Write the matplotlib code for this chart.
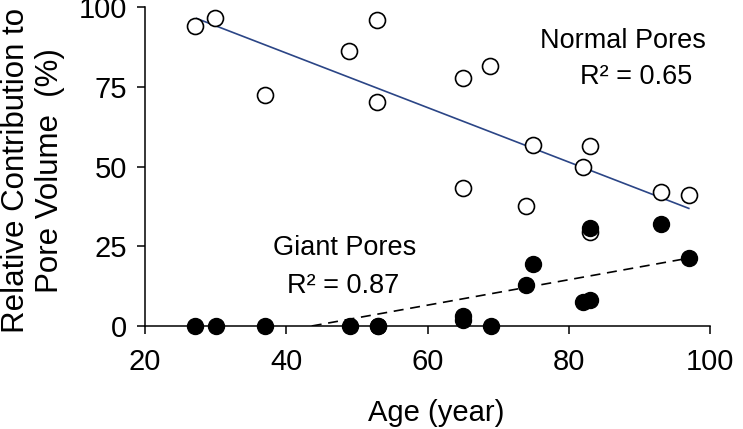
import matplotlib
matplotlib.use("Agg")
import matplotlib.pyplot as plt

plt.rcParams['font.family'] = ['Liberation Sans', 'DejaVu Sans']

# Normal pores (open circles)
age_normal = [27.1, 29.9, 37.0, 48.9, 52.9, 52.9, 65.0, 68.9, 65.0, 75.0, 74.0, 82.0, 83.0, 83.0, 93.0, 97.0]
normal_pct = [94.1, 96.6, 72.5, 86.3, 96.0, 70.3, 77.8, 81.6, 43.3, 56.8, 37.7, 49.9, 56.5, 29.5, 42.0, 41.1]

# Giant pores (filled circles)
age_giant = [27.1, 30.0, 37.0, 49.0, 53.0, 53.0, 65.0, 65.0, 69.0, 74.0, 75.0, 82.0, 83.0, 83.0, 93.0, 97.0]
giant_pct = [0.0, 0.0, 0.0, 0.0, 0.0, 0.0, 1.8, 3.0, 0.0, 12.8, 19.5, 7.4, 8.1, 30.8, 32.1, 21.2]

# trend lines as drawn in the figure
normal_fit_x = [27.3, 97.0]
normal_fit_y = [96.5, 36.9]
giant_fit_x = [43.6, 97.0]
giant_fit_y = [0.0, 21.3]

x_ticks = [20, 40, 60, 80, 100]
y_ticks = [0, 25, 50, 75, 100]

fig = plt.figure(figsize=(7.43, 4.29), dpi=100)
ax = fig.add_axes([0.1952, 0.2401, 0.7604, 0.7429])

ax.plot(normal_fit_x, normal_fit_y, color='#2b4586', linewidth=1.2, zorder=2)
ax.plot(giant_fit_x, giant_fit_y, color='black', linewidth=1.2,
        linestyle=(0, (6, 4)), zorder=2)

ax.plot(age_normal, normal_pct, linestyle='none', marker='o', markersize=11.5,
        markerfacecolor='white', markeredgecolor='black', markeredgewidth=1.2, zorder=3,
        clip_on=False)
ax.plot(age_giant, giant_pct, linestyle='none', marker='o', markersize=11.5,
        markerfacecolor='black', markeredgecolor='black', markeredgewidth=1.0, zorder=4,
        clip_on=False)

ax.text(87.7, 87.1, 'Normal Pores', ha='center', va='baseline', fontsize=19.5)
ax.text(89.5, 75.8, 'R² = 0.65', ha='center', va='baseline', fontsize=19.5)
ax.text(48.2, 22.3, 'Giant Pores', ha='center', va='baseline', fontsize=19.5)
ax.text(48.1, 10.3, 'R² = 0.87', ha='center', va='baseline', fontsize=19.5)

ax.set_xlim(20, 100)
ax.set_ylim(0, 100)
ax.set_xticks(x_ticks)
ax.set_yticks(y_ticks)
ax.tick_params(axis='both', direction='out', length=6, width=1.1, labelsize=21)
ax.tick_params(axis='x', pad=10)
ax.tick_params(axis='y', pad=7)

for side in ['top', 'right']:
    ax.spines[side].set_visible(False)
for side in ['left', 'bottom']:
    ax.spines[side].set_linewidth(1.1)

ax.set_xlabel('Age (year)', fontsize=21, va='baseline')
ax.xaxis.set_label_coords(0.516, -0.298)
ax.set_ylabel('Relative Contribution to\nPore Volume  (%)', fontsize=22.5,
              ha='center', va='center', linespacing=1.15)
ax.yaxis.set_label_coords(-0.198, 0.489)

plt.savefig('out.png', dpi=100)
